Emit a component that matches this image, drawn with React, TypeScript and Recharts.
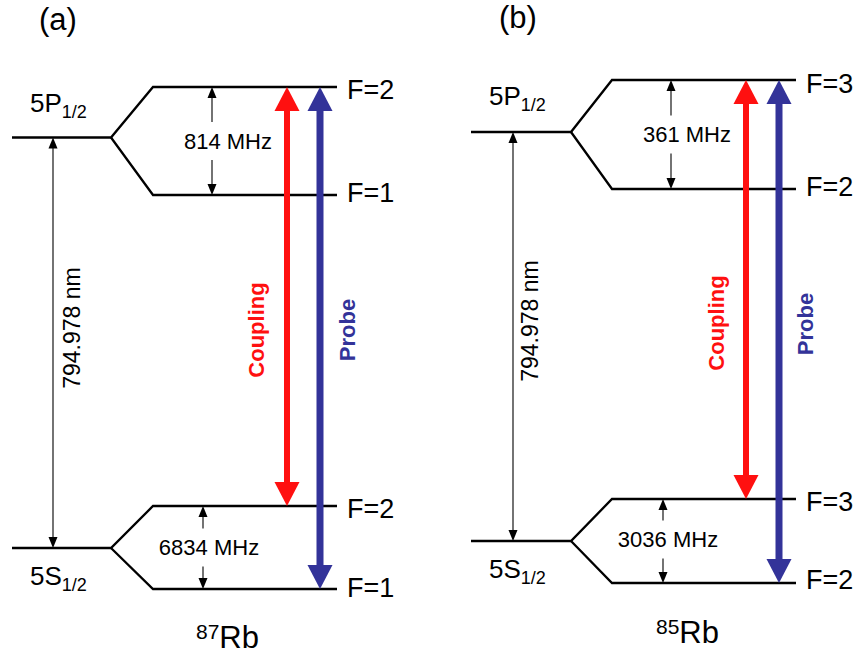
import { ComposedChart, Line, Scatter, XAxis, YAxis } from "recharts";

const W = 859;
const H = 658;
const FONT = '"Liberation Sans", Arial, Helvetica, sans-serif';
const RED = "#ff1010";
const BLUE = "#333399";

// hyperfine manifolds, y measured downward (screen-like), x in diagram units
const rb87Excited = [{ x: 12, y: 137.5 }, { x: 111, y: 137.5 }, { x: 153, y: 87 }, { x: 337, y: 87 }];
const rb87ExcitedLow = [{ x: 111, y: 137.5 }, { x: 153, y: 195 }, { x: 337, y: 195 }];
const rb87Ground = [{ x: 12, y: 548 }, { x: 111, y: 548 }, { x: 153, y: 506 }, { x: 337, y: 506 }];
const rb87GroundLow = [{ x: 111, y: 548 }, { x: 153, y: 589 }, { x: 337, y: 589 }];

const rb85Excited = [{ x: 471, y: 132 }, { x: 571, y: 132 }, { x: 612, y: 80 }, { x: 796, y: 80 }];
const rb85ExcitedLow = [{ x: 571, y: 132 }, { x: 612, y: 189 }, { x: 796, y: 189 }];
const rb85Ground = [{ x: 471, y: 541 }, { x: 571, y: 541 }, { x: 612, y: 499 }, { x: 796, y: 499 }];
const rb85GroundLow = [{ x: 571, y: 541 }, { x: 612, y: 583 }, { x: 796, y: 583 }];

const levels = [
  rb87Excited, rb87ExcitedLow, rb87Ground, rb87GroundLow,
  rb85Excited, rb85ExcitedLow, rb85Ground, rb85GroundLow
];

// thin double arrows (optical gap + hyperfine splittings)
const splittings = [
  { x: 53, top: 137.5, bottom: 548 },
  { x: 212, top: 87, bottom: 195 },
  { x: 203, top: 506, bottom: 589 },
  { x: 513, top: 132, bottom: 541 },
  { x: 671, top: 80, bottom: 189 },
  { x: 663, top: 499, bottom: 583 }
];

// laser beams
const couplingBeams = [
  { x: 287, top: 87, bottom: 506 },
  { x: 746, top: 80, bottom: 499 }
];
const probeBeams = [
  { x: 320, top: 87, bottom: 589 },
  { x: 779, top: 80, bottom: 583 }
];

// text
const panelTags = [
  { x: 58, y: 19, text: "(a)" },
  { x: 518, y: 17, text: "(b)" }
];
const fLabels = [
  { x: 347, y: 90, text: "F=2" },
  { x: 347, y: 193, text: "F=1" },
  { x: 347, y: 509, text: "F=2" },
  { x: 347, y: 588, text: "F=1" },
  { x: 806, y: 84, text: "F=3" },
  { x: 806, y: 187, text: "F=2" },
  { x: 806, y: 502, text: "F=3" },
  { x: 806, y: 580, text: "F=2" }
];
const termLabels = [
  { x: 30, y: 112, main: "5P", sub: "1/2" },
  { x: 30, y: 585, main: "5S", sub: "1/2" },
  { x: 489, y: 105, main: "5P", sub: "1/2" },
  { x: 489, y: 578, main: "5S", sub: "1/2" }
];
const isotopeLabels = [
  { x: 196, y: 648, mass: "87" },
  { x: 656, y: 643, mass: "85" }
];
const splitLabels = [
  { x: 228, y: 141, text: "814 MHz" },
  { x: 209, y: 547.5, text: "6834 MHz" },
  { x: 687, y: 134.5, text: "361 MHz" },
  { x: 668, y: 539.5, text: "3036 MHz" }
];
const wavelengthLabels = [
  { x: 72, y: 328, text: "794.978 nm" },
  { x: 530, y: 321, text: "794.978 nm" }
];
const couplingLabels = [
  { x: 256, y: 330, text: "Coupling" },
  { x: 716, y: 323, text: "Coupling" }
];
const probeLabels = [
  { x: 347, y: 330, text: "Probe" },
  { x: 805, y: 324, text: "Probe" }
];

const THICK_HEAD = 24;

const tips = (arrows: { x: number; top: number; bottom: number }[]) =>
  arrows.flatMap(a => [
    { x: a.x, y: a.top, dir: "up" },
    { x: a.x, y: a.bottom, dir: "down" }
  ]);

const headShape = (w: number, h: number, color: string) => (props: any) => {
  const { cx, cy, payload } = props;
  const s = payload.dir === "up" ? 1 : -1;
  return (
    <polygon
      points={`${cx},${cy} ${cx - w / 2},${cy + s * h} ${cx + w / 2},${cy + s * h}`}
      fill={color}
    />
  );
};

const textShape = (fs: number, color: string, weight: string, anchor: string, rotate: boolean) => (props: any) => {
  const { cx, cy, payload } = props;
  return (
    <text
      x={cx}
      y={cy}
      fontFamily={FONT}
      fontSize={fs}
      fontWeight={weight}
      fill={color}
      textAnchor={anchor}
      dominantBaseline="central"
      transform={rotate ? `rotate(-90 ${cx} ${cy})` : undefined}
    >
      {payload.text}
    </text>
  );
};

const splitLabelShape = (props: any) => {
  const { cx, cy, payload } = props;
  const fs = 22;
  const w = payload.text.length * fs * 0.6;
  return (
    <g>
      <rect x={cx - w / 2} y={cy - 19} width={w} height={38} fill="#fff" />
      <text x={cx} y={cy} fontFamily={FONT} fontSize={fs} fill="#000" textAnchor="middle" dominantBaseline="central">
        {payload.text}
      </text>
    </g>
  );
};

const termShape = (props: any) => {
  const { cx, cy, payload } = props;
  return (
    <text x={cx} y={cy} fontFamily={FONT} fontSize={26} fill="#000">
      {payload.main}
      <tspan fontSize={18} dy={6}>{payload.sub}</tspan>
    </text>
  );
};

const isotopeShape = (props: any) => {
  const { cx, cy, payload } = props;
  return (
    <text x={cx} y={cy} fontFamily={FONT} fill="#000">
      <tspan fontSize={21} dy={-9}>{payload.mass}</tspan>
      <tspan fontSize={31} dy={9}>Rb</tspan>
    </text>
  );
};

export default function App() {
  return (
    <div style={{ position: "absolute", left: 0, top: 0, width: W, height: H, background: "#fff" }}>
      <ComposedChart width={W} height={H} margin={{ top: 0, right: 0, bottom: 0, left: 0 }}>
        <XAxis type="number" dataKey="x" domain={[0, W]} allowDataOverflow hide />
        <YAxis type="number" dataKey="y" domain={[0, H]} allowDataOverflow reversed hide />

        {levels.map((lv, i) => (
          <Line
            key={`lv${i}`}
            data={lv}
            dataKey="y"
            type="linear"
            stroke="#000"
            strokeWidth={2.3}
            dot={false}
            activeDot={false}
            isAnimationActive={false}
          />
        ))}

        {splittings.map((a, i) => (
          <Line
            key={`sp${i}`}
            data={[{ x: a.x, y: a.top + 4 }, { x: a.x, y: a.bottom - 4 }]}
            dataKey="y"
            stroke="#000"
            strokeWidth={1.1}
            dot={false}
            activeDot={false}
            isAnimationActive={false}
          />
        ))}
        <Scatter data={tips(splittings)} dataKey="y" shape={headShape(9, 11, "#000")} isAnimationActive={false} />
        <Scatter data={splitLabels} dataKey="y" shape={splitLabelShape} isAnimationActive={false} />

        {couplingBeams.map((a, i) => (
          <Line
            key={`cb${i}`}
            data={[{ x: a.x, y: a.top + THICK_HEAD - 3 }, { x: a.x, y: a.bottom - THICK_HEAD + 3 }]}
            dataKey="y"
            stroke={RED}
            strokeWidth={6}
            dot={false}
            activeDot={false}
            isAnimationActive={false}
          />
        ))}
        {probeBeams.map((a, i) => (
          <Line
            key={`pb${i}`}
            data={[{ x: a.x, y: a.top + THICK_HEAD - 3 }, { x: a.x, y: a.bottom - THICK_HEAD + 3 }]}
            dataKey="y"
            stroke={BLUE}
            strokeWidth={7}
            dot={false}
            activeDot={false}
            isAnimationActive={false}
          />
        ))}
        <Scatter data={tips(couplingBeams)} dataKey="y" shape={headShape(25, THICK_HEAD, RED)} isAnimationActive={false} />
        <Scatter data={tips(probeBeams)} dataKey="y" shape={headShape(25, THICK_HEAD, BLUE)} isAnimationActive={false} />

        <Scatter data={panelTags} dataKey="y" shape={textShape(31, "#000", "normal", "middle", false)} isAnimationActive={false} />
        <Scatter data={fLabels} dataKey="y" shape={textShape(27, "#000", "normal", "start", false)} isAnimationActive={false} />
        <Scatter data={termLabels} dataKey="y" shape={termShape} isAnimationActive={false} />
        <Scatter data={isotopeLabels} dataKey="y" shape={isotopeShape} isAnimationActive={false} />
        <Scatter data={wavelengthLabels} dataKey="y" shape={textShape(23, "#000", "normal", "middle", true)} isAnimationActive={false} />
        <Scatter data={couplingLabels} dataKey="y" shape={textShape(22, RED, "bold", "middle", true)} isAnimationActive={false} />
        <Scatter data={probeLabels} dataKey="y" shape={textShape(22, BLUE, "bold", "middle", true)} isAnimationActive={false} />
      </ComposedChart>
    </div>
  );
}
